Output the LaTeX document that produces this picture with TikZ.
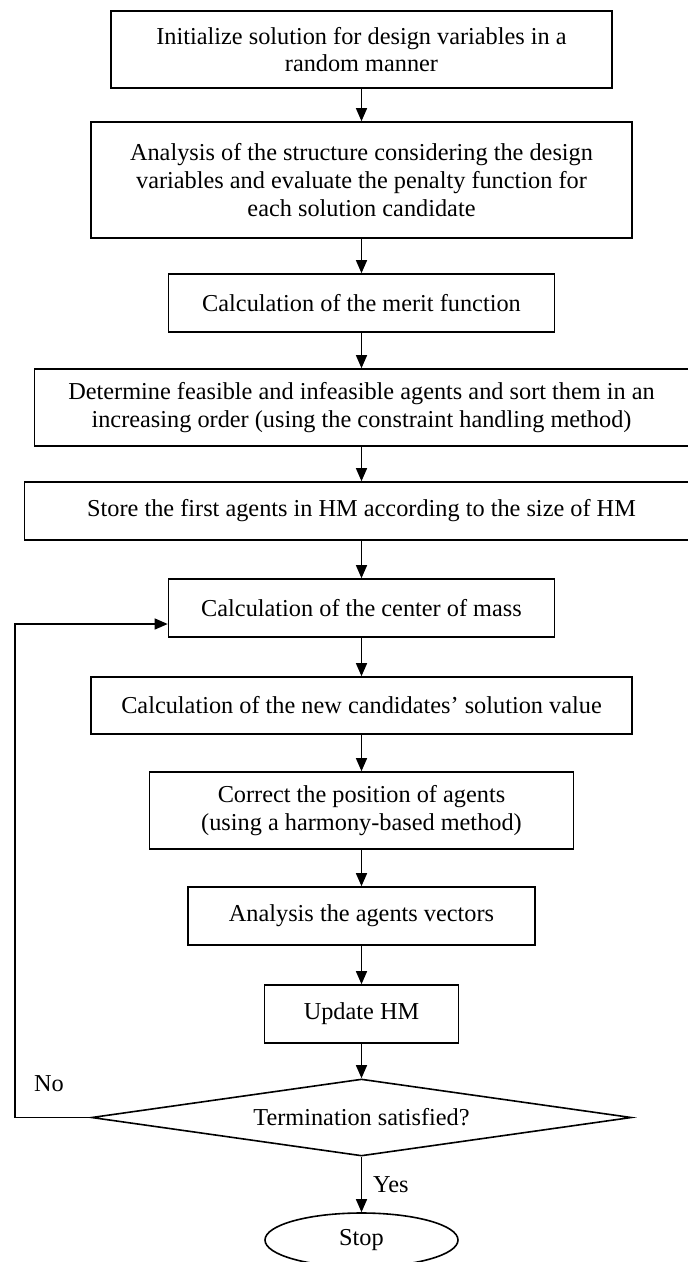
\documentclass[tikz,border=0pt]{standalone}
\usepackage{fontspec}
\setmainfont{Liberation Serif}
\usetikzlibrary{shapes.geometric,arrows.meta}
\begin{document}
\begin{tikzpicture}[x=1pt,y=-1pt,
 box/.style={draw, line width=1.6pt, inner sep=0pt, align=center, font=\fontsize{24.3}{27.8}\selectfont},
 arr/.style={-{Triangle[length=13pt,width=11pt]}, line width=1.3pt},
 lbl/.style={font=\fontsize{24.3}{27.8}\selectfont, inner sep=0pt}]
\useasboundingbox (0,0) rectangle (688,1262);
\clip (0,0) rectangle (688,1262);
\node[box, minimum width=501pt, minimum height=77pt] (n1) at (361.5,49.5) {Initialize solution for design variables in a\\random manner};
\node[box, minimum width=541pt, minimum height=116pt] (n2) at (361.5,180) {Analysis of the structure considering the design\\variables and evaluate the penalty function for\\each solution candidate};
\node[box, minimum width=386pt, minimum height=58pt] (n3) at (361.5,303) {Calculation of the merit function};
\node[box, minimum width=654pt, minimum height=77pt] (n4) at (361.5,407.5) {Determine feasible and infeasible agents and sort them in an\\increasing order (using the constraint handling method)};
\node[box, minimum width=674pt, minimum height=58pt] (n5) at (361.5,511) {Store the first agents in HM according to the size of HM};
\node[box, minimum width=386pt, minimum height=58pt] (n6) at (361.5,608) {Calculation of the center of mass};
\node[box, minimum width=541pt, minimum height=57pt] (n7) at (361.5,705.5) {Calculation of the new candidates' solution value};
\node[box, minimum width=424pt, minimum height=77pt] (n8) at (361.5,810.5) {Correct the position of agents\\(using a harmony-based method)};
\node[box, minimum width=347pt, minimum height=58pt] (n9) at (361.5,916) {Analysis the agents vectors};
\node[box, minimum width=194pt, minimum height=58pt] (n10) at (361.5,1014) {Update HM};
\node[box, shape=diamond, aspect=7, minimum width=540pt, minimum height=77pt] (d) at (361.5,1117.5) {Termination satisfied?};
\node[box, shape=ellipse, minimum width=193pt, minimum height=54pt] (stop) at (361.5,1240) {Stop};
\node[lbl] (no) at (49,1084) {No};
\node[lbl, anchor=west] (yes) at (373,1185) {Yes};
\draw[arr] (n1.south) -- (n2.north);
\draw[arr] (n2.south) -- (n3.north);
\draw[arr] (n3.south) -- (n4.north);
\draw[arr] (n4.south) -- (n5.north);
\draw[arr] (n5.south) -- (n6.north);
\draw[arr] (n6.south) -- (n7.north);
\draw[arr] (n7.south) -- (n8.north);
\draw[arr] (n8.south) -- (n9.north);
\draw[arr] (n9.south) -- (n10.north);
\draw[arr] (n10.south) -- (d.north);
\draw[arr] (d.south) -- (stop.north);
\coordinate (c1) at (15,1117.5);
\coordinate (c2) at (15,624);
\draw[arr] (d.west) -- (c1) -- (c2) -- (c2 -| n6.west);
\end{tikzpicture}
\end{document}
